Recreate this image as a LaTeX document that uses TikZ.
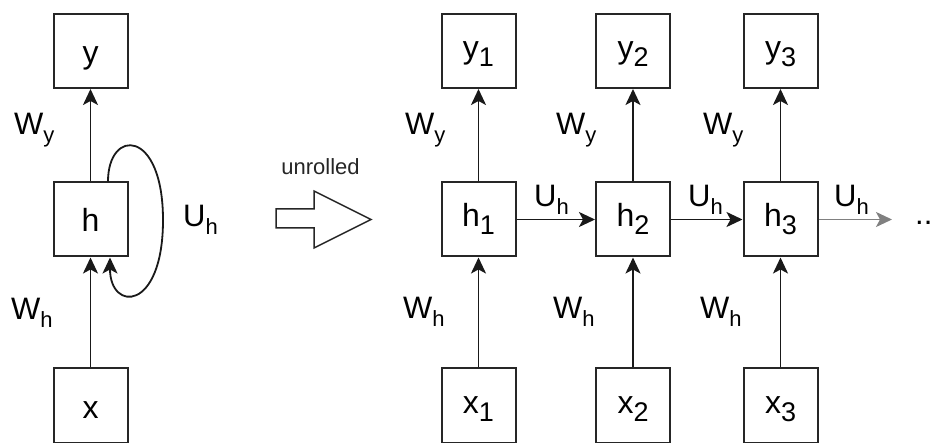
\documentclass[tikz,border=0pt]{standalone}
\usepackage{fontspec}
\setmainfont{Liberation Sans}
\usetikzlibrary{arrows.meta,calc}
\newcommand{\cellfont}{\fontsize{32}{32}\selectfont}
\newcommand{\lblfont}{\fontsize{31}{31}\selectfont}
\newcommand{\csub}[1]{\raisebox{-8pt}{\fontsize{27}{27}\selectfont #1}}
\newcommand{\lsub}[1]{\raisebox{-8pt}{\fontsize{22}{22}\selectfont #1}}
\begin{document}
\begin{tikzpicture}[x=1pt,y=-1pt,
  cell/.style={draw=black!85,line width=2pt,minimum width=74pt,minimum height=74pt,
    inner sep=0pt,font=\cellfont,text height=25pt,text depth=0pt},
  cellsub/.style={cell,text height=23pt,text depth=8pt},
  tipstyle/.style={-{Stealth[length=16pt,width=15pt,inset=4pt]}},
  conn/.style={line width=1.8pt,draw=black!90,tipstyle},
  greyconn/.style={line width=1.8pt,draw=black!50,-{Stealth[length=16pt,width=15pt,inset=4pt,fill=black!50]}},
  wl/.style={anchor=base west,inner sep=0pt,font=\lblfont}]
\useasboundingbox (0,0) rectangle (934,443);

% left folded network
\node[cell] (y) at (90.5,51) {y};
\node[cell] (h) at (90.5,219.5) {h};
\node[cell] (x) at (90.5,405.5) {x};
\draw[conn] (x) -- (h);
\draw[conn] (h) -- (y);
\coordinate (ls) at ($(h.north)+(17.5,0)$);
\coordinate (le) at ($(h.south)+(19.5,0)$);
\draw[conn] (ls) .. controls (108,128) and (163,128) .. (163,220)
  .. controls (163,312) and (110,312) .. (le);
\node[wl] (wy0) at (14,135) {W\lsub{y}};
\node[wl] (wh0) at (11,320) {W\lsub{h}};
\node[wl] (uh0) at (183,227) {U\lsub{h}};

% unrolled arrow
\node[anchor=base,inner sep=0pt,font=\fontsize{22}{22}\selectfont,text=black!85] (ur) at (320.5,175) {unrolled};
\draw[line width=1.5pt,draw=black!85,line join=miter]
  (276,209) -- (314,209) -- (314,191) -- (371,219.5) -- (314,248) -- (314,228) -- (276,228) -- cycle;

% unrolled network
\foreach \i/\cx in {1/478.5,2/633,3/780.5}{
  \node[cellsub] (y\i) at (\cx,51) {y\csub{\i}};
  \node[cellsub] (h\i) at (\cx,219.5) {h\csub{\i}};
  \node[cellsub] (x\i) at (\cx,405.5) {x\csub{\i}};
  \draw[conn] (x\i) -- (h\i);
  \draw[conn] (h\i) -- (y\i);
}
\draw[conn] (h1) -- (h2);
\draw[conn] (h2) -- (h3);
\coordinate (hend) at (892,219.5);
\draw[greyconn] (h3) -- (hend);

\node[wl] (wy1) at (405,135) {W\lsub{y}};
\node[wl] (wy2) at (556,135) {W\lsub{y}};
\node[wl] (wy3) at (703,135) {W\lsub{y}};
\node[wl] (wh1) at (403,319) {W\lsub{h}};
\node[wl] (wh2) at (553,319) {W\lsub{h}};
\node[wl] (wh3) at (700,319) {W\lsub{h}};
\node[wl] (uh1) at (534,207) {U\lsub{h}};
\node[wl] (uh2) at (688,207) {U\lsub{h}};
\node[wl] (uh3) at (834,207) {U\lsub{h}};
\node[wl] (dots) at (915,225) {..};
\end{tikzpicture}
\end{document}
